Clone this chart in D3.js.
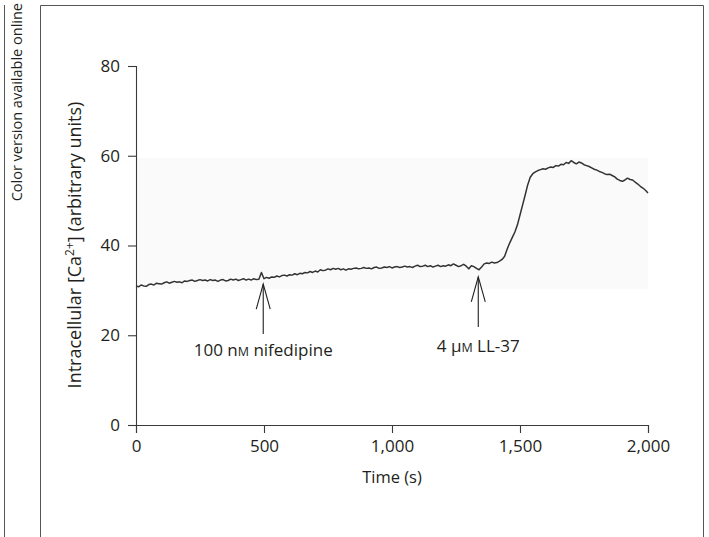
<!DOCTYPE html>
<html>
<head>
<meta charset="utf-8">
<script src="https://cdn.jsdelivr.net/npm/d3@7"></script>
<style>
  html, body { margin: 0; padding: 0; background: #fff; }
  svg { display: block; }
  text { font-family: "Open Sans", "Noto Sans", sans-serif; fill: #231f20; }
</style>
</head>
<body>
<div id="chart"></div>
<script>
// ---- data ----
const timeStep = 10; // seconds between samples
const calcium = [
  31.0, 30.8, 31.2, 31.0, 30.9, 31.3, 31.4, 31.2, 31.6, 31.5,
  31.4, 31.7, 31.9, 31.6, 31.8, 32.0, 31.8, 31.9, 31.7, 32.1,
  32.0, 32.2, 32.3, 32.0, 32.2, 32.4, 32.2, 32.3, 32.1, 32.4,
  32.2, 32.3, 32.0, 32.3, 32.4, 32.1, 32.2, 32.5, 32.3, 32.5,
  32.2, 32.4, 32.6, 32.3, 32.5, 32.3, 32.6, 32.4, 32.5, 34.0,
  32.6, 32.9, 32.7, 33.0, 32.9, 33.2, 33.0, 33.3, 33.4, 33.2,
  33.5, 33.4, 33.7, 33.5, 33.8, 33.7, 34.0, 33.9, 34.2, 34.0,
  34.3, 34.1, 34.6, 34.4, 34.5, 34.8, 34.6, 34.9, 34.7, 34.9,
  34.6, 34.8, 34.5, 34.8, 34.7, 34.9, 35.0, 34.8, 34.9, 35.1,
  34.9, 35.0, 34.8, 35.1, 35.2, 34.9, 35.0, 35.2, 35.1, 35.3,
  35.0, 35.2, 35.3, 35.1, 35.2, 35.4, 35.2, 35.3, 35.1, 35.4,
  35.6, 35.3, 35.4, 35.6, 35.3, 35.5, 35.2, 35.4, 35.6, 35.3,
  35.5, 35.4, 35.7, 35.5, 35.9, 35.6, 35.3, 35.5, 35.8, 35.4,
  34.8, 35.5, 35.3, 34.9, 34.6, 35.2, 35.9, 36.1, 36.0, 36.3,
  36.1, 36.2, 36.5, 36.9, 37.6, 39.2, 40.6, 41.8, 43.0, 44.6,
  46.8, 49.0, 51.2, 53.5, 55.2, 56.0, 56.4, 56.7, 56.9, 57.1,
  57.0, 57.3, 57.5, 57.4, 57.8, 57.7, 58.1, 58.0, 58.5, 58.3,
  58.9, 58.5, 58.2, 58.6, 58.4, 58.0, 57.8, 57.6, 57.3, 57.0,
  56.8, 56.5, 56.3, 56.0, 55.8, 55.9, 55.6, 55.3, 54.8, 54.5,
  54.3, 54.6, 55.0, 54.7, 54.6, 54.1, 53.7, 53.2, 52.8, 52.3,
  51.7
];
const xTicks = [0, 500, 1000, 1500, 2000];
const yTicks = [0, 20, 40, 60, 80];
const annoTimes = [497, 1337];
const annoTips = [31.4, 33.0];
const annoNumbers = ["100 ", "4 "];
const annoUnitPrefix = ["n", "\u03bc"];
const annoUnit = ["M", "M"];
const annoRest = [" nifedipine", " LL-37"];
const annoLabelDrop = [72, 75];

const W = 709, H = 537;
const svg = d3.select("#chart").append("svg").attr("width", W).attr("height", H);

// frame lines
svg.append("line").attr("x1", 4.5).attr("x2", 4.5).attr("y1", 5).attr("y2", H)
  .attr("stroke", "#555").attr("stroke-width", 1);
svg.append("path").attr("d", `M40.5,${H} V5.5 H703.5 V${H}`)
  .attr("fill", "none").attr("stroke", "#555").attr("stroke-width", 1);
svg.append("text")
  .attr("transform", "translate(21.5,3) rotate(-90)")
  .attr("text-anchor", "end")
  .attr("font-size", 14.5)
  .attr("fill", "#333")
  .text("Color version available online");

const x = d3.scaleLinear().domain([0, 2000]).range([136, 648]);
const y = d3.scaleLinear().domain([0, 80]).range([425, 66]);

// faint plot backdrop from the original
svg.append("rect")
  .attr("x", x(0)).attr("y", y(59.5))
  .attr("width", x(2000) - x(0)).attr("height", y(30.3) - y(59.5))
  .attr("fill", "#fafafa");

// axes
const yAxis = svg.append("g").attr("transform", `translate(${x(0)},0)`)
  .call(d3.axisLeft(y).tickValues(yTicks).tickSize(8).tickPadding(8).tickFormat(d3.format("d")));
const xAxis = svg.append("g").attr("transform", `translate(0,${y(0)})`)
  .call(d3.axisBottom(x).tickValues(xTicks).tickSize(8).tickPadding(7).tickFormat(d3.format(",")));
[yAxis, xAxis].forEach(g => {
  g.select(".domain").attr("stroke", "#3a3a3a").attr("stroke-width", 1.1);
  g.selectAll(".tick line").attr("stroke", "#3a3a3a").attr("stroke-width", 1.1);
  g.selectAll(".tick text").attr("font-size", 17).attr("fill", "#231f20")
    .attr("font-family", '"Open Sans", sans-serif');
});

// axis titles
svg.append("text")
  .attr("x", (x(0) + x(2000)) / 2).attr("y", 483)
  .attr("text-anchor", "middle").attr("font-size", 16.5)
  .text("Time (s)");

const yl = svg.append("text")
  .attr("transform", `translate(81,${245}) rotate(-90)`)
  .attr("text-anchor", "middle").attr("font-size", 18);
yl.append("tspan").text("Intracellular [Ca");
yl.append("tspan").attr("font-size", 12).attr("dy", -7.5).text("2+");
yl.append("tspan").attr("dy", 7.5).text("] (arbitrary units)");

// trace
const line = d3.line()
  .x((d, i) => x(i * timeStep))
  .y(d => y(d));
svg.append("path").datum(calcium)
  .attr("d", line)
  .attr("fill", "none")
  .attr("stroke", "#333")
  .attr("stroke-width", 1.5)
  .attr("stroke-linejoin", "round");

// annotations (open arrows + labels)
annoTimes.forEach((t, i) => {
  const ax = x(t), tip = y(annoTips[i]);
  const g = svg.append("g");
  g.append("line").attr("x1", ax).attr("x2", ax).attr("y1", tip).attr("y2", tip + 50)
    .attr("stroke", "#231f20").attr("stroke-width", 1.1);
  g.append("path")
    .attr("d", `M${ax - 7},${tip + 25} L${ax},${tip} L${ax + 7},${tip + 25}`)
    .attr("fill", "none").attr("stroke", "#231f20").attr("stroke-width", 1.1);
  const tx = g.append("text").attr("x", ax).attr("y", tip + annoLabelDrop[i])
    .attr("text-anchor", "middle").attr("font-size", 17);
  tx.append("tspan").text(annoNumbers[i] + annoUnitPrefix[i]);
  tx.append("tspan").attr("font-size", 12.5).text(annoUnit[i]);
  tx.append("tspan").text(annoRest[i]);
});
</script>
</body>
</html>
